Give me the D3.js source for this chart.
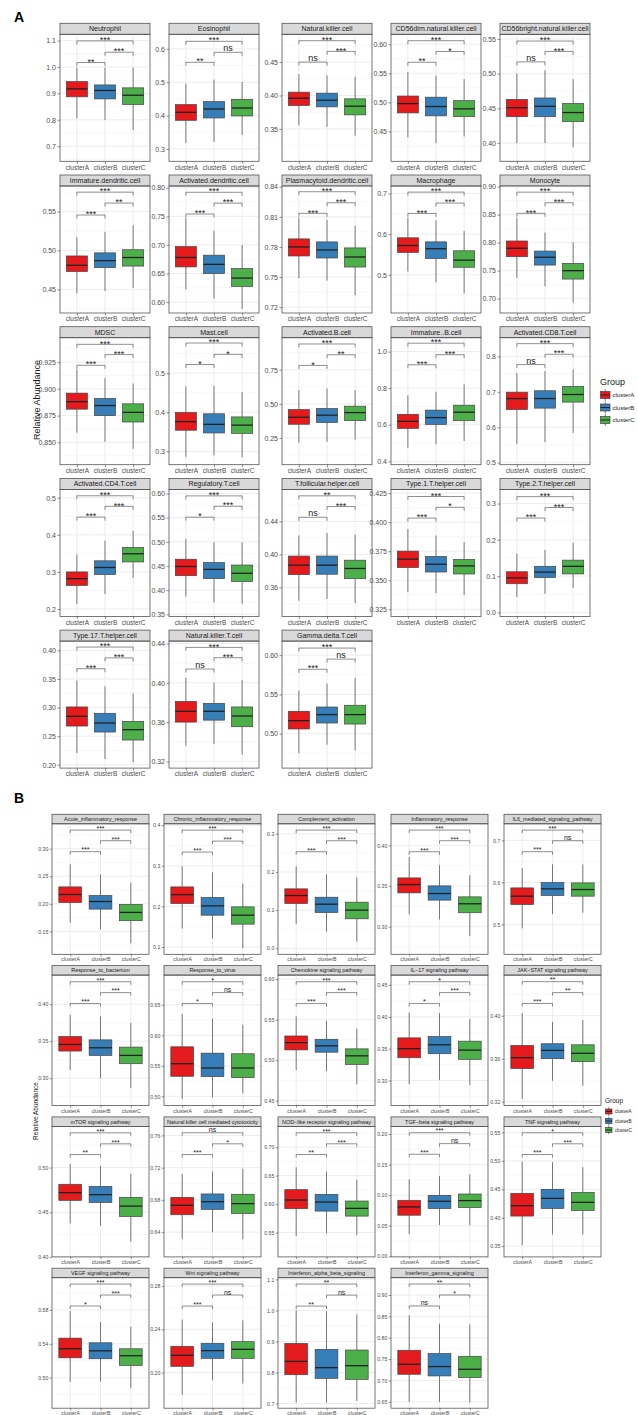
<!DOCTYPE html>
<html><head><meta charset="utf-8">
<script src="https://cdn.jsdelivr.net/npm/d3@7/dist/d3.min.js"></script>
<style>body{margin:0;background:#fff}svg{display:block}text{font-family:"Liberation Sans",Arial,sans-serif}</style>
</head><body><svg id="c" width="637" height="1415"></svg>
<script>
// ---------------- DATA ----------------
const clusters = ["clusterA", "clusterB", "clusterC"];

// Panel A
const namesA = ["Neutrophil","Eosinophil","Natural.killer.cell","CD56dim.natural.killer.cell","CD56bright.natural.killer.cell",
"Immature.dendritic.cell","Activated.dendritic.cell","Plasmacytoid.dendritic.cell","Macrophage","Monocyte",
"MDSC","Mast.cell","Activated.B.cell","Immature..B.cell","Activated.CD8.T.cell",
"Activated.CD4.T.cell","Regulatory.T.cell","T.follicular.helper.cell","Type.1.T.helper.cell","Type.2.T.helper.cell",
"Type.17.T.helper.cell","Natural.killer.T.cell","Gamma.delta.T.cell"];
const tickLabelsA = [
["0.7","0.8","0.9","1.0","1.1"],["0.3","0.4","0.5","0.6"],["0.35","0.40","0.45"],["0.45","0.50","0.55","0.60"],["0.40","0.45","0.50","0.55"],
["0.45","0.50","0.55"],["0.60","0.65","0.70","0.75","0.80"],["0.72","0.75","0.78","0.81","0.84"],["0.5","0.6","0.7"],["0.70","0.75","0.80","0.85","0.90"],
["0.850","0.875","0.900","0.925"],["0.3","0.4","0.5"],["0.25","0.50","0.75"],["0.4","0.6","0.8","1.0"],["0.5","0.6","0.7","0.8"],
["0.2","0.3","0.4","0.5"],["0.35","0.40","0.45","0.50","0.55","0.60"],["0.36","0.40","0.44"],["0.325","0.350","0.375","0.400","0.425"],["0.0","0.1","0.2","0.3"],
["0.20","0.25","0.30","0.35","0.40"],["0.32","0.36","0.40","0.44"],["0.50","0.55","0.60"]];
const yRangeA = [
[0.6425,1.124],[0.263,0.644],[0.3015,0.4916],[0.3989,0.617],[0.3738,0.5567],
[0.4197,0.5829],[0.5809,0.803],[0.7142,0.8407],[0.4059,0.7185],[0.6744,0.9012],
[0.8291,0.9478],[0.2658,0.5906],[0.054,0.985],[0.3815,1.076],[0.4943,0.8528],
[0.18,0.5227],[0.3458,0.6084],[0.3249,0.4788],[0.3189,0.4282],[-0.0111,0.339],
[0.1942,0.4164],[0.3132,0.4424],[0.4562,0.6179]];
// [whiskerLow, Q1, median, Q3, whiskerHigh] for clusterA, clusterB, clusterC
const statsA = [
[[0.805,0.887,0.917,0.9445,0.998],[0.799,0.879,0.911,0.932,0.998],[0.761,0.858,0.893,0.921,0.998]],
[[0.318,0.386,0.410,0.433,0.496],[0.321,0.393,0.420,0.442,0.508],[0.342,0.399,0.423,0.449,0.501]],
[[0.355,0.385,0.396,0.405,0.432],[0.353,0.383,0.393,0.4035,0.430],[0.340,0.371,0.384,0.395,0.428]],
[[0.440,0.482,0.498,0.511,0.552],[0.430,0.477,0.493,0.509,0.546],[0.4415,0.4756,0.489,0.503,0.540]],
[[0.400,0.438,0.451,0.463,0.500],[0.400,0.438,0.453,0.465,0.505],[0.394,0.431,0.444,0.457,0.492]],
[[0.445,0.473,0.481,0.493,0.517],[0.448,0.478,0.487,0.497,0.524],[0.452,0.480,0.491,0.501,0.5325]],
[[0.622,0.6615,0.678,0.697,0.747],[0.606,0.650,0.666,0.682,0.725],[0.588,0.6275,0.642,0.6585,0.700]],
[[0.749,0.771,0.780,0.788,0.809],[0.7465,0.769,0.777,0.785,0.807],[0.732,0.760,0.770,0.779,0.801]],
[[0.508,0.555,0.572,0.591,0.640],[0.4815,0.540,0.564,0.581,0.6345],[0.454,0.5185,0.536,0.559,0.608]],
[[0.737,0.775,0.790,0.803,0.844],[0.722,0.760,0.774,0.785,0.818],[0.693,0.735,0.750,0.763,0.801]],
[[0.859,0.881,0.888,0.896,0.918],[0.8506,0.875,0.8844,0.891,0.910],[0.844,0.869,0.878,0.886,0.905]],
[[0.286,0.354,0.376,0.399,0.466],[0.290,0.347,0.369,0.396,0.4675],[0.285,0.346,0.367,0.388,0.452]],
[[0.216,0.3505,0.402,0.458,0.6005],[0.221,0.363,0.417,0.466,0.613],[0.238,0.3775,0.436,0.483,0.6005]],
[[0.474,0.580,0.6185,0.657,0.761],[0.493,0.602,0.639,0.680,0.780],[0.511,0.622,0.6685,0.707,0.820]],
[[0.553,0.650,0.681,0.699,0.753],[0.558,0.654,0.681,0.703,0.7585],[0.584,0.671,0.6925,0.715,0.763]],
[[0.2136,0.2636,0.2818,0.300,0.347],[0.240,0.293,0.312,0.330,0.384],[0.284,0.327,0.349,0.366,0.411]],
[[0.387,0.430,0.449,0.464,0.506],[0.375,0.424,0.443,0.457,0.499],[0.372,0.418,0.435,0.452,0.499]],
[[0.344,0.3755,0.387,0.398,0.423],[0.346,0.376,0.387,0.398,0.426],[0.341,0.3706,0.383,0.393,0.424]],
[[0.3397,0.3609,0.3682,0.3751,0.394],[0.3389,0.3571,0.3638,0.3705,0.3885],[0.3374,0.3554,0.3624,0.3679,0.3827]],
[[0.042,0.079,0.095,0.112,0.162],[0.051,0.096,0.111,0.127,0.172],[0.067,0.106,0.127,0.144,0.192]],
[[0.2205,0.2678,0.2848,0.3012,0.3474],[0.210,0.2573,0.2731,0.2901,0.3374],[0.2047,0.2433,0.2614,0.276,0.3246]],
[[0.336,0.360,0.371,0.381,0.405],[0.3377,0.362,0.371,0.379,0.400],[0.3268,0.3553,0.3662,0.3754,0.4026]],
[[0.4753,0.506,0.5166,0.5285,0.5549],[0.486,0.5136,0.5243,0.534,0.5638],[0.4787,0.5123,0.5243,0.5362,0.5711]]];
// significance brackets: [A-B, B-C, A-C]
const sigYA = [
[1.017,1.056,1.099],[0.560,0.590,0.623],[0.450,0.466,0.482],[0.569,0.5875,0.606],[0.517,0.532,0.547],
[0.5456,0.561,0.575],[0.754,0.773,0.792],[0.8135,0.824,0.835],[0.651,0.6765,0.7034],[0.8524,0.8713,0.8902],
[0.922,0.932,0.9416],[0.522,0.548,0.577],[0.782,0.860,0.939],[0.928,0.983,1.046],[0.777,0.806,0.836],
[0.448,0.477,0.5055],[0.551,0.5735,0.595],[0.445,0.458,0.471],[0.4035,0.4128,0.4221],[0.260,0.289,0.319],
[0.368,0.387,0.406],[0.414,0.4255,0.436],[0.582,0.595,0.609]];
const sigLabA = [
["**","***","***"],["**","ns","***"],["ns","***","***"],["**","*","***"],["ns","***","***"],
["***","**","***"],["***","***","***"],["***","***","***"],["***","***","***"],["***","***","***"],
["***","***","***"],["*","*","***"],["*","**","***"],["***","***","***"],["ns","***","***"],
["***","***","***"],["*","***","***"],["ns","***","**"],["***","*","***"],["***","***","***"],
["***","***","***"],["ns","***","***"],["***","ns","***"]];

// Panel B
const namesB = ["Acute_inflammatory_response","Chronic_inflammatory_response","Complement_activation","Inflammatory_response","IL6_mediated_signaling_pathway",
"Response_to_bacterium","Response_to_virus","Chemokine signaling pathway","IL\u221217 signaling pathway","JAK\u2212STAT signaling pathway",
"mTOR signaling pathway","Natural killer cell mediated cytotoxicity","NOD\u2212like receptor signaling pathway","TGF\u2212beta signaling pathway","TNF signaling pathway",
"VEGF signaling pathway","Wnt signaling pathway","Interferon_alpha_beta_signaling","Interferon_gamma_signaling"];
const tickLabelsB = [
["0.15","0.20","0.25","0.30"],["0.1","0.2","0.3","0.4"],["0.0","0.1","0.2","0.3"],["0.30","0.35","0.40"],["0.5","0.6","0.7"],
["0.30","0.35","0.40"],["0.50","0.55","0.60","0.65"],["0.45","0.50","0.55","0.60"],["0.30","0.35","0.40","0.45"],["0.32","0.36","0.40"],
["0.40","0.45","0.50"],["0.64","0.68","0.72","0.76"],["0.55","0.60","0.65","0.70"],["0.00","0.05","0.10","0.15","0.20"],["0.35","0.40","0.45","0.50","0.55"],
["0.50","0.54","0.58"],["0.20","0.24","0.28"],["0.7","0.8","0.9","1.0","1.1"],["0.65","0.70","0.75","0.80","0.85","0.90"]];
const yRangeB = [
[0.1084,0.3452],[0.082,0.4033],[-0.0157,0.3261],[0.2661,0.4265],[0.4288,0.7395],
[0.263,0.4393],[0.4848,0.6988],[0.4439,0.6049],[0.2606,0.4656],[0.3163,0.4378],
[0.40,0.5461],[0.6093,0.7712],[0.5071,0.7365],[-0.001,0.2125],[0.3312,0.5606],
[0.4638,0.6182],[0.1671,0.2877],[0.685,1.1054],[0.6352,0.9405]];
const statsB = [
[[0.1657,0.2024,0.2169,0.2307,0.2717],[0.1537,0.1904,0.2042,0.2151,0.253],[0.1284,0.1694,0.1844,0.1988,0.2386]],
[[0.1456,0.207,0.229,0.2479,0.2986],[0.1211,0.1783,0.2012,0.2217,0.2838],[0.0965,0.1562,0.1783,0.1988,0.256]],
[[0.0634,0.1173,0.1382,0.1557,0.2148],[0.0434,0.0938,0.1156,0.1338,0.1939],[0.0173,0.0773,0.1,0.1208,0.1852]],
[[0.3151,0.3416,0.3518,0.36,0.3857],[0.309,0.3327,0.3408,0.3502,0.3755],[0.2886,0.3172,0.3282,0.3367,0.3633]],
[[0.4905,0.5474,0.5671,0.5869,0.6343],[0.5245,0.5688,0.5846,0.5996,0.643],[0.5277,0.5672,0.583,0.5988,0.643]],
[[0.3108,0.3367,0.3456,0.3563,0.3857],[0.30,0.3308,0.3411,0.3518,0.3835],[0.2866,0.3196,0.3308,0.342,0.3746]],
[[0.4957,0.5329,0.5535,0.5812,0.6348],[0.4982,0.5323,0.5464,0.5708,0.6272],[0.5047,0.5307,0.5464,0.5698,0.6175]],
[[0.4878,0.5126,0.5216,0.5298,0.5539],[0.4865,0.5098,0.5176,0.5257,0.5486],[0.4702,0.4947,0.5053,0.5139,0.5388]],
[[0.2943,0.3358,0.35,0.367,0.4069],[0.3011,0.3421,0.3561,0.369,0.4059],[0.2928,0.3333,0.3478,0.3618,0.3965]],
[[0.3225,0.3508,0.3609,0.3723,0.4025],[0.3394,0.36,0.3677,0.3739,0.3942],[0.3348,0.3572,0.365,0.3729,0.396]],
[[0.4375,0.4633,0.4719,0.4813,0.5041],[0.4348,0.461,0.4697,0.479,0.5019],[0.4169,0.4453,0.4569,0.4667,0.4929]],
[[0.6313,0.6616,0.6733,0.6832,0.7123],[0.64,0.6683,0.6778,0.6874,0.7152],[0.6313,0.6633,0.6754,0.687,0.7185]],
[[0.5436,0.5918,0.6071,0.6253,0.6647],[0.5488,0.5876,0.6035,0.6171,0.6571],[0.5453,0.5788,0.5924,0.6053,0.6429]],
[[0.0363,0.0672,0.0808,0.0916,0.1257],[0.051,0.0781,0.09,0.0997,0.1312],[0.051,0.0797,0.0911,0.1019,0.1339]],
[[0.3518,0.403,0.4212,0.443,0.4988],[0.3706,0.4165,0.4341,0.45,0.4976],[0.3706,0.4129,0.4271,0.4447,0.4888]],
[[0.4949,0.5234,0.5341,0.5467,0.5788],[0.4953,0.5223,0.5317,0.5412,0.5658],[0.4874,0.5145,0.5259,0.5341,0.5603]],
[[0.1794,0.2058,0.216,0.2243,0.2489],[0.1929,0.2132,0.2203,0.2271,0.2462],[0.1898,0.2132,0.2215,0.2286,0.2483]],
[[0.7032,0.7928,0.8357,0.8936,1.0],[0.7032,0.7812,0.8155,0.8745,0.9979],[0.7083,0.778,0.822,0.8724,0.9871]],
[[0.65,0.7146,0.738,0.7707,0.8525],[0.65,0.7107,0.7326,0.7629,0.833],[0.6484,0.7068,0.7263,0.7567,0.8315]]];
const sigYB = [
[0.2946,0.3145,0.3337],[0.3337,0.3607,0.3877],[0.253,0.2817,0.3096],[0.3922,0.4057,0.4188],[0.6731,0.6992,0.7245],
[0.4009,0.4156,0.4303],[0.6522,0.6701,0.6879],[0.5698,0.5833,0.5967],[0.4209,0.4381,0.4552],[0.4114,0.4215,0.4317],
[0.5146,0.5266,0.5389],[0.7363,0.7496,0.7633],[0.6871,0.7059,0.7253],[0.1669,0.1843,0.2022],[0.5112,0.53,0.5494],
[0.5847,0.5977,0.6107],[0.2615,0.2717,0.2818],[1.0139,1.0493,1.085],[0.8743,0.90,0.9257]];
const sigLabB = [
["***","***","***"],["***","***","***"],["***","***","***"],["***","***","***"],["***","ns","***"],
["***","***","***"],["*","ns","*"],["***","***","***"],["*","***","*"],["***","**","**"],
["**","***","***"],["***","*","ns"],["**","***","***"],["***","ns","***"],["***","***","*"],
["*","***","***"],["***","ns","***"],["**","ns","**"],["ns","*","**"]];

// ---------------- STYLE / LAYOUT ----------------
const groupColor = d3.scaleOrdinal().domain(clusters).range(["#E41A1C", "#377EB8", "#4DAF4A"]);
const layA = {lefts:[60,169,282,391,500], w:90, top0:23.3, pitch:151.7, stripH:11, plotH:127,
  fStrip:7, fTick:7, fX:6.5, fSig:9, tip:3.5, astDy:2.2, nsDy:-0.8, tickLen:2.5};
const layB = {lefts:[52,164,278,391,504], w:97, top0:814.3, pitch:151.3, stripH:9.5, plotH:130.5,
  fStrip:5.4, fTick:5.2, fX:5.2, fSig:7, tip:3, astDy:0.8, nsDy:-0.5, tickLen:2.2};

const svg = d3.select("#c");
svg.append("rect").attr("width",637).attr("height",1415).attr("fill","#fff");

function drawPanel(idx, name, tlabels, yr, stats, sy, sl, L) {
  const col = idx % 5, row = Math.floor(idx / 5);
  const g = svg.append("g").attr("transform", `translate(${L.lefts[col]},${L.top0 + row*L.pitch})`);
  const w = L.w, h = L.plotH;
  const x = d3.scalePoint().domain(clusters).range([0, w]).padding(0.6);
  const y = d3.scaleLinear().domain(yr).range([h, 0]);
  const bw = x.step() * 0.75;
  const ticks = tlabels.map(Number);

  // strip
  g.append("rect").attr("x",0).attr("y",0).attr("width",w).attr("height",L.stripH)
    .attr("fill","#d9d9d9").attr("stroke","#555").attr("stroke-width",0.8);
  g.append("text").attr("x",w/2).attr("y",L.stripH/2 + L.fStrip*0.36).attr("text-anchor","middle")
    .attr("font-size",L.fStrip).attr("fill","#1a1a1a").text(name);

  const p = g.append("g").attr("transform",`translate(0,${L.stripH})`);
  // grid
  const step = ticks[1]-ticks[0];
  const minors = [];
  for (let v = ticks[0] - step/2; v <= yr[1]; v += step) if (v >= yr[0]) minors.push(v);
  p.selectAll(".gmin").data(minors).join("line").attr("x1",0).attr("x2",w)
    .attr("y1",d=>y(d)).attr("y2",d=>y(d)).attr("stroke","#f3f3f3").attr("stroke-width",0.6);
  p.selectAll(".gmaj").data(ticks).join("line").attr("x1",0).attr("x2",w)
    .attr("y1",d=>y(d)).attr("y2",d=>y(d)).attr("stroke","#ebebeb").attr("stroke-width",0.9);
  p.selectAll(".gx").data(clusters).join("line").attr("x1",d=>x(d)).attr("x2",d=>x(d))
    .attr("y1",0).attr("y2",h).attr("stroke","#ebebeb").attr("stroke-width",0.9);

  // boxes
  const bx = p.selectAll(".box").data(stats.map((s,i)=>({c:clusters[i], s}))).join("g");
  bx.append("line").attr("x1",d=>x(d.c)).attr("x2",d=>x(d.c)).attr("y1",d=>y(d.s[4])).attr("y2",d=>y(d.s[3]))
    .attr("stroke","#444").attr("stroke-width",0.7);
  bx.append("line").attr("x1",d=>x(d.c)).attr("x2",d=>x(d.c)).attr("y1",d=>y(d.s[1])).attr("y2",d=>y(d.s[0]))
    .attr("stroke","#444").attr("stroke-width",0.7);
  bx.append("rect").attr("x",d=>x(d.c)-bw/2).attr("width",bw).attr("y",d=>y(d.s[3]))
    .attr("height",d=>y(d.s[1])-y(d.s[3])).attr("fill",d=>groupColor(d.c)).attr("stroke","#444").attr("stroke-width",0.7);
  bx.append("line").attr("x1",d=>x(d.c)-bw/2).attr("x2",d=>x(d.c)+bw/2).attr("y1",d=>y(d.s[2])).attr("y2",d=>y(d.s[2]))
    .attr("stroke","#222").attr("stroke-width",1.3);

  // significance
  const pairs = [[0,1],[1,2],[0,2]];
  pairs.forEach((pr,k)=>{
    const x1 = x(clusters[pr[0]]), x2 = x(clusters[pr[1]]), yy = y(sy[k]);
    p.append("path").attr("d",`M${x1},${yy+L.tip}L${x1},${yy}L${x2},${yy}L${x2},${yy+L.tip}`)
      .attr("fill","none").attr("stroke","#444").attr("stroke-width",0.6);
    const isNs = sl[k] === "ns";
    p.append("text").attr("x",(x1+x2)/2).attr("y", yy + (isNs ? L.nsDy : L.astDy)).attr("text-anchor","middle")
      .attr("font-size",L.fSig).attr("fill","#222").text(sl[k]);
  });

  // border
  p.append("rect").attr("x",0).attr("y",0).attr("width",w).attr("height",h)
    .attr("fill","none").attr("stroke","#555").attr("stroke-width",0.8);

  // axes
  const ay = p.append("g").call(d3.axisLeft(y).tickValues(ticks).tickFormat((d,i)=>tlabels[i]).tickSize(L.tickLen).tickPadding(1.5));
  ay.select(".domain").remove();
  ay.selectAll("line").attr("stroke","#444").attr("stroke-width",0.6);
  ay.selectAll("text").attr("font-size",L.fTick).attr("fill","#4d4d4d").attr("font-family",null);
  const ax = p.append("g").attr("transform",`translate(0,${h})`).call(d3.axisBottom(x).tickSize(L.tickLen).tickPadding(1.2));
  ax.select(".domain").remove();
  ax.selectAll("line").attr("stroke","#444").attr("stroke-width",0.6);
  ax.selectAll("text").attr("font-size",L.fX).attr("fill","#4d4d4d").attr("font-family",null);
}

namesA.forEach((n,i)=>drawPanel(i, n, tickLabelsA[i], yRangeA[i], statsA[i], sigYA[i], sigLabA[i], layA));
namesB.forEach((n,i)=>drawPanel(i, n, tickLabelsB[i], yRangeB[i], statsB[i], sigYB[i], sigLabB[i], layB));

// panel letters
svg.append("text").attr("x",14).attr("y",21.7).attr("font-size",14).attr("font-weight","bold").text("A");
svg.append("text").attr("x",14).attr("y",803.3).attr("font-size",14).attr("font-weight","bold").text("B");

// y titles
svg.append("text").attr("transform","translate(40,400) rotate(-90)").attr("text-anchor","middle")
  .attr("font-size",9).attr("fill","#1a1a1a").text("Relative Abundance");
svg.append("text").attr("transform","translate(38,1111) rotate(-90)").attr("text-anchor","middle")
  .attr("font-size",6.5).attr("fill","#1a1a1a").text("Relative Abundance");

// legends
function legend(x0, yTitle, fTitle, keyW, keyH, yCenters, fLab, labX) {
  const lg = svg.append("g");
  lg.append("text").attr("x",x0).attr("y",yTitle).attr("font-size",fTitle).attr("fill","#1a1a1a").text("Group");
  clusters.forEach((c,i)=>{
    const cy = yCenters[i], cx = x0 + 0.5 + keyW/2;
    lg.append("line").attr("x1",cx).attr("x2",cx).attr("y1",cy-keyH*0.85).attr("y2",cy+keyH*0.85).attr("stroke","#444").attr("stroke-width",0.7);
    lg.append("rect").attr("x",cx-keyW/2).attr("y",cy-keyH/2).attr("width",keyW).attr("height",keyH)
      .attr("fill",groupColor(c)).attr("stroke","#444").attr("stroke-width",0.7);
    lg.append("line").attr("x1",cx-keyW/2).attr("x2",cx+keyW/2).attr("y1",cy).attr("y2",cy).attr("stroke","#222").attr("stroke-width",1);
    lg.append("text").attr("x",labX).attr("y",cy+fLab*0.35).attr("font-size",fLab).attr("fill","#1a1a1a").text(c);
  });
}
legend(600, 385, 9, 9.5, 7, [395, 407.5, 420], 6, 612.5);
legend(605, 1103, 6.5, 6.5, 5, [1111.5, 1121, 1130], 4.6, 615);
</script></body></html>
